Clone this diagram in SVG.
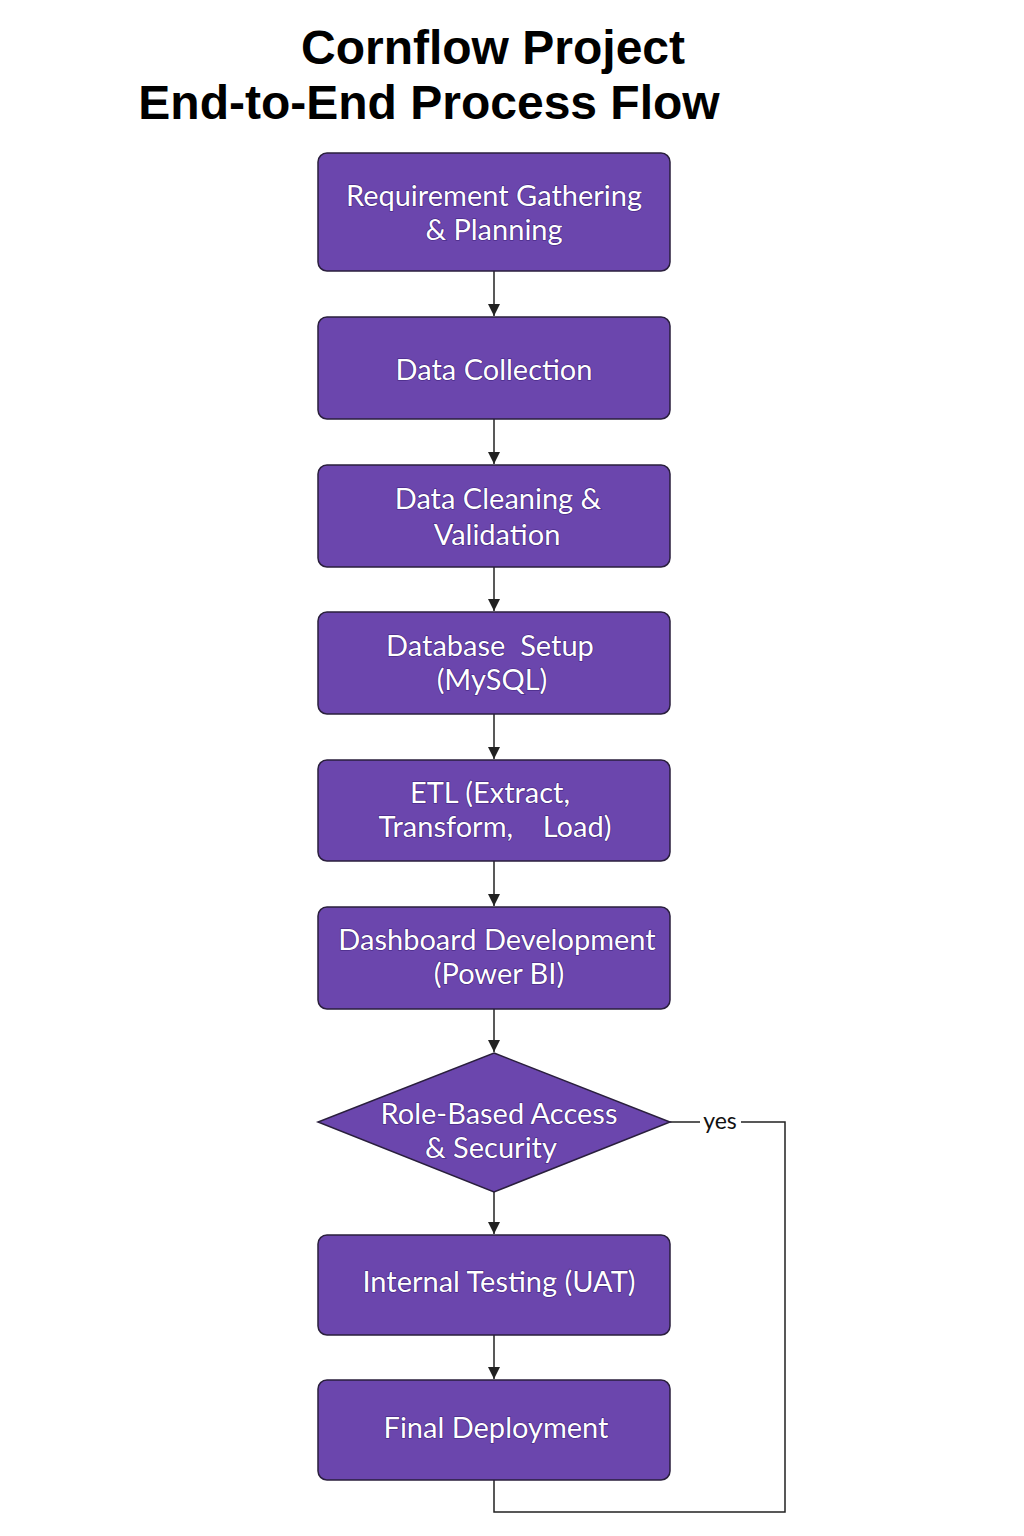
<svg xmlns="http://www.w3.org/2000/svg" width="1024" height="1536" viewBox="0 0 1024 1536">
<style>
.node{fill:#6b46ad;stroke:#2a1f3d;stroke-width:1.5}
.lbl{font-family:Lato,"Open Sans",sans-serif;font-size:29px;fill:#ffffff;text-anchor:middle;stroke:#3d1f7a;stroke-width:1.2;paint-order:stroke}
.title{font-family:"Liberation Sans",Arial,sans-serif;font-weight:bold;font-size:48px;fill:#000;text-anchor:middle}
.conn{fill:none;stroke:#222;stroke-width:1.5}
</style>
<defs>
<marker id="arr" viewBox="0 0 10 10" refX="10" refY="5" markerWidth="12" markerHeight="12" markerUnits="userSpaceOnUse" orient="auto">
<path d="M0,0 L10,5 L0,10 z" fill="#222"/>
</marker>
</defs>
<rect width="1024" height="1536" fill="#fff"/>
<g id="title">
<text class="title" x="493" y="64">Cornflow Project</text>
<text class="title" x="429" y="119">End-to-End Process Flow</text>
</g>
<g id="connectors">
<line class="conn" x1="494" y1="271" x2="494" y2="316" marker-end="url(#arr)"/>
<line class="conn" x1="494" y1="419" x2="494" y2="464" marker-end="url(#arr)"/>
<line class="conn" x1="494" y1="567" x2="494" y2="611" marker-end="url(#arr)"/>
<line class="conn" x1="494" y1="714" x2="494" y2="759" marker-end="url(#arr)"/>
<line class="conn" x1="494" y1="861" x2="494" y2="906" marker-end="url(#arr)"/>
<line class="conn" x1="494" y1="1009" x2="494" y2="1052" marker-end="url(#arr)"/>
<line class="conn" x1="494" y1="1192" x2="494" y2="1234" marker-end="url(#arr)"/>
<line class="conn" x1="494" y1="1335" x2="494" y2="1379" marker-end="url(#arr)"/>
<polyline class="conn" points="670,1122 700,1122"/>
<polyline class="conn" points="741,1122 785,1122 785,1512 494,1512 494,1480"/>
<text x="720" y="1129" font-family="Lato,'Open Sans',sans-serif" font-size="23" fill="#111" text-anchor="middle">yes</text>
</g>
<g id="n1">
<rect class="node" x="318" y="153" width="352" height="118" rx="9"/>
<text class="lbl" x="494" y="206">Requirement Gathering</text>
<text class="lbl" x="494" y="240">&amp; Planning</text>
</g>
<g id="n2">
<rect class="node" x="318" y="317" width="352" height="102" rx="9"/>
<text class="lbl" x="494" y="380">Data Collection</text>
</g>
<g id="n3">
<rect class="node" x="318" y="465" width="352" height="102" rx="9"/>
<text class="lbl" x="498" y="509">Data Cleaning &amp;</text>
<text class="lbl" x="497" y="545">Validation</text>
</g>
<g id="n4">
<rect class="node" x="318" y="612" width="352" height="102" rx="9"/>
<text class="lbl" x="490" y="656" xml:space="preserve">Database  Setup</text>
<text class="lbl" x="492" y="690">(MySQL)</text>
</g>
<g id="n5">
<rect class="node" x="318" y="760" width="352" height="101" rx="9"/>
<text class="lbl" x="490" y="803">ETL (Extract,</text>
<text class="lbl" x="495" y="837" xml:space="preserve">Transform,    Load)</text>
</g>
<g id="n6">
<rect class="node" x="318" y="907" width="352" height="102" rx="9"/>
<text class="lbl" x="497" y="950">Dashboard Development</text>
<text class="lbl" x="499" y="984">(Power BI)</text>
</g>
<g id="n7">
<polygon class="node" points="494,1053 670,1122 494,1192 318,1122"/>
<text class="lbl" x="499" y="1124">Role-Based Access</text>
<text class="lbl" x="491" y="1158">&amp; Security</text>
</g>
<g id="n8">
<rect class="node" x="318" y="1235" width="352" height="100" rx="9"/>
<text class="lbl" x="499" y="1292">Internal Testing (UAT)</text>
</g>
<g id="n9">
<rect class="node" x="318" y="1380" width="352" height="100" rx="9"/>
<text class="lbl" x="496" y="1438">Final Deployment</text>
</g>
</svg>
